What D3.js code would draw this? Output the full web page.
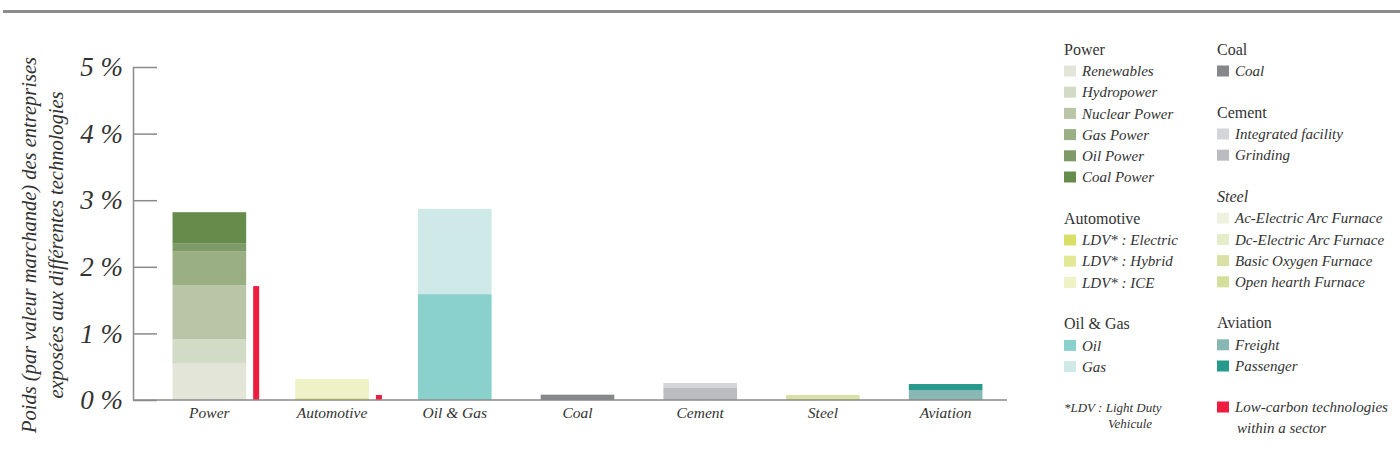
<!DOCTYPE html>
<html>
<head>
<meta charset="utf-8">
<script src="https://cdn.jsdelivr.net/npm/d3@7"></script>
<style>
  body { margin: 0; background: #fff; }
  svg text { font-family: "Liberation Serif", "Times New Roman", serif; fill: #333; }
</style>
</head>
<body>
<div id="chart"></div>
<script>
// ---- data (values in %) ----
var categories = ["Power", "Automotive", "Oil & Gas", "Coal", "Cement", "Steel", "Aviation"];

var powerTech = ["Renewables", "Hydropower", "Nuclear Power", "Gas Power", "Oil Power", "Coal Power"];
var powerValues = [0.555, 0.36, 0.81, 0.51, 0.12, 0.465];
var powerColors = ["#e2e5d8", "#d2dbc6", "#bac5a8", "#9aaf84", "#7e9a68", "#668c4c"];

var autoTech = ["LDV* : Electric", "LDV* : Hybrid", "LDV* : ICE"];
var autoValues = [0.01, 0.02, 0.285];
var autoColors = ["#d9e068", "#e2e895", "#eef2c6"];

var oilGasTech = ["Oil", "Gas"];
var oilGasValues = [1.59, 1.28];
var oilGasColors = ["#8ad1cd", "#cfe9e8"];

var coalTech = ["Coal"];
var coalValues = [0.08];
var coalColors = ["#87888c"];

var cementTech = ["Integrated facility", "Grinding"];
var cementValues = [0.075, 0.18];
var cementColors = ["#d4d5d8", "#bbbcc0"];

var steelTech = ["Ac-Electric Arc Furnace", "Dc-Electric Arc Furnace", "Basic Oxygen Furnace", "Open hearth Furnace"];
var steelValues = [0, 0, 0.075, 0];
var steelColors = ["#eef2de", "#e5ecca", "#d9e2a4", "#d4df9c"];

var aviationTech = ["Freight", "Passenger"];
var aviationValues = [0.15, 0.09];
var aviationColors = ["#87b8b4", "#27998d"];

var lowCarbon = [1.71, 0.075, 0, 0, 0, 0, 0];
var lowCarbonColor = "#ee1c3e";

var yTicks = [0, 1, 2, 3, 4, 5];

// stacking order inside the bars (bottom -> top)
var stackOrder = {
  "Power": [powerTech, powerValues, powerColors],
  "Automotive": [autoTech, autoValues, autoColors],
  "Oil & Gas": [oilGasTech, oilGasValues, oilGasColors],
  "Coal": [coalTech, coalValues, coalColors],
  "Cement": [["Grinding", "Integrated facility"], [cementValues[1], cementValues[0]], [cementColors[1], cementColors[0]]],
  "Steel": [steelTech, steelValues, steelColors],
  "Aviation": [aviationTech, aviationValues, aviationColors]
};

var W = 1400, H = 467;

var svg = d3.select("#chart").append("svg")
  .attr("width", W)
  .attr("height", H);

// top rule
svg.append("line")
  .attr("x1", 3).attr("x2", W)
  .attr("y1", 11.5).attr("y2", 11.5)
  .attr("stroke", "#8c8c8c")
  .attr("stroke-width", 3);

var axisX0 = 133, axisX1 = 1007;

var x = d3.scaleBand()
  .domain(categories)
  .range([148, axisX1])
  .paddingInner(0.4)
  .paddingOuter(0.2);

var y = d3.scaleLinear()
  .domain([0, 5])
  .range([400, 67]);

// stacked bars
var segs = [];
categories.forEach(function (c) {
  var s = stackOrder[c];
  var cum = d3.cumsum(s[1]);
  s[0].forEach(function (t, i) {
    segs.push({cat: c, tech: t, y0: cum[i] - s[1][i], y1: cum[i], color: s[2][i]});
  });
});

svg.append("g").selectAll("rect")
  .data(segs.filter(function (d) { return d.y1 > d.y0; }))
  .enter().append("rect")
  .attr("x", function (d) { return x(d.cat); })
  .attr("width", x.bandwidth())
  .attr("y", function (d) { return y(d.y1); })
  .attr("height", function (d) { return y(d.y0) - y(d.y1); })
  .attr("fill", function (d) { return d.color; });

// low carbon bars
svg.append("g").selectAll("rect")
  .data(categories.map(function (c, i) { return {cat: c, v: lowCarbon[i]}; }).filter(function (d) { return d.v > 0; }))
  .enter().append("rect")
  .attr("x", function (d) { return x(d.cat) + x.bandwidth() + 7; })
  .attr("width", 6)
  .attr("y", function (d) { return y(d.v); })
  .attr("height", function (d) { return y(0) - y(d.v); })
  .attr("fill", lowCarbonColor);

// y axis
var yAxis = d3.axisLeft(y)
  .tickValues(yTicks)
  .tickSizeInner(-24)
  .tickSizeOuter(0)
  .tickPadding(10)
  .tickFormat(function (d) { return d + " %"; });

var gy = svg.append("g")
  .attr("transform", "translate(" + axisX0 + ",0)")
  .call(yAxis);
gy.select(".domain").attr("stroke", "#8a8a8a").attr("stroke-width", 1.5);
gy.selectAll(".tick line").attr("stroke", "#8a8a8a").attr("stroke-width", 1.5);
gy.selectAll(".tick text")
  .style("font-family", "'Liberation Serif', serif")
  .style("font-style", "italic")
  .style("font-size", "27px")
  .attr("fill", "#333");

// x axis
svg.append("line")
  .attr("x1", axisX0).attr("x2", axisX1)
  .attr("y1", y(0)).attr("y2", y(0))
  .attr("stroke", "#8a8a8a")
  .attr("stroke-width", 1.5);

svg.append("g").selectAll("text")
  .data(categories)
  .enter().append("text")
  .attr("x", function (d) { return x(d) + x.bandwidth() / 2; })
  .attr("y", 418)
  .attr("text-anchor", "middle")
  .style("font-style", "italic")
  .style("font-size", "15.5px")
  .text(function (d) { return d; });

// y title
var yTitle = ["Poids (par valeur marchande) des entreprises", "exposées aux différentes technologies"];
svg.append("g").selectAll("text")
  .data(yTitle)
  .enter().append("text")
  .attr("transform", function (d, i) { return "translate(" + (29 + i * 27) + ",245) rotate(-90)"; })
  .attr("text-anchor", "middle")
  .attr("dy", "0.35em")
  .style("font-style", "italic")
  .style("font-size", "20.5px")
  .text(function (d) { return d; });

// ---- legend ----
var legendCols = [
  {x: 1064, groups: [
    {title: "Power", names: powerTech, colors: powerColors},
    {title: "Automotive", names: autoTech, colors: autoColors},
    {title: "Oil & Gas", names: oilGasTech, colors: oilGasColors},
    {note: ["*LDV : Light Duty", "Vehicule"]}
  ]},
  {x: 1217, groups: [
    {title: "Coal", names: coalTech, colors: coalColors},
    {title: "Cement", names: cementTech, colors: cementColors},
    {title: "Steel", italic: true, names: steelTech, colors: steelColors},
    {title: "Aviation", names: aviationTech, colors: aviationColors},
    {names: ["Low-carbon technologies"], second: "within a sector", colors: [lowCarbonColor]}
  ]}
];

var rowH = 21.2, headGap = 22, groupGap = 41;

legendCols.forEach(function (col) {
  var g = svg.append("g").attr("transform", "translate(" + col.x + ",0)");
  var cy = 49;
  col.groups.forEach(function (grp, gi) {
    if (gi > 0) cy += groupGap;
    if (grp.note) {
      grp.note.forEach(function (t, k) {
        g.append("text")
          .attr("x", k === 0 ? 0 : 44)
          .attr("y", cy + k * 16)
          .attr("dy", "0.35em")
          .style("font-style", "italic")
          .style("font-size", "13px")
          .text(t);
      });
      return;
    }
    var iy = cy;
    if (grp.title) {
      g.append("text")
        .attr("x", 0).attr("y", cy)
        .attr("dy", "0.35em")
        .style("font-size", "16px")
        .style("font-style", grp.italic ? "italic" : "normal")
        .text(grp.title);
      iy = cy + headGap;
    }
    grp.names.forEach(function (n, k) {
      var yy = iy + k * rowH;
      g.append("rect")
        .attr("x", 0).attr("y", yy - 5.5)
        .attr("width", 12).attr("height", 11)
        .attr("fill", grp.colors[k]);
      g.append("text")
        .attr("x", 18).attr("y", yy)
        .attr("dy", "0.35em")
        .style("font-style", "italic")
        .style("font-size", "15px")
        .text(n);
      cy = yy;
    });
    if (grp.second) {
      g.append("text")
        .attr("x", 20).attr("y", cy + rowH)
        .attr("dy", "0.35em")
        .style("font-style", "italic")
        .style("font-size", "15px")
        .text(grp.second);
    }
  });
});
</script>
</body>
</html>
